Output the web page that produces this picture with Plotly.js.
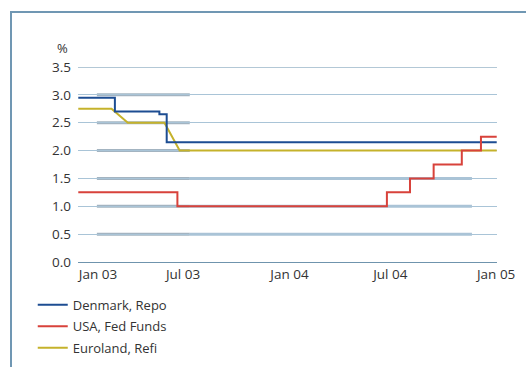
<!DOCTYPE html>
<html>
<head>
<meta charset="utf-8">
<script src="https://cdn.plot.ly/plotly-3.0.1.min.js"></script>
<style>
  html, body { margin: 0; padding: 0; background: #fff; }
  #wrap { position: relative; width: 526px; height: 367px; overflow: hidden; }
  #chart { width: 526px; height: 367px; }
  #frame { position: absolute; left: 10px; top: 11px; width: 700px; height: 700px;
           border-left: 2px solid #7097b3; border-top: 2px solid #7097b3; pointer-events: none; }
</style>
</head>
<body>
<div id="wrap">
  <div id="chart"></div>
  <div id="frame"></div>
</div>
<script>
// Denmark, Repo
const dkDates = ['2002-12-30', '2003-03-05', '2003-05-23', '2003-06-05', '2005-01-11'];
const dkRates = [2.95, 2.70, 2.65, 2.15, 2.15];

// USA, Fed Funds
const usDates = ['2002-12-30', '2003-06-24', '2004-06-30', '2004-08-10', '2004-09-21', '2004-11-10', '2004-12-14', '2005-01-11'];
const usRates = [1.25, 1.00, 1.25, 1.50, 1.75, 2.00, 2.25, 2.25];

// Euroland, Refi (monthly-sampled, transitions drawn as slopes)
const euDates = ['2002-12-30', '2003-02-27', '2003-03-28', '2003-06-01', '2003-06-28', '2005-01-11'];
const euRates = [2.75, 2.75, 2.50, 2.50, 2.00, 2.00];

// Axis ticks
const xTickVals = ['2003-02-03', '2003-07-04', '2004-01-09', '2004-07-06', '2005-01-10'];
const xTickText = ['Jan 03', 'Jul 03', 'Jan 04', 'Jul 04', 'Jan 05'];
const yTickVals = [0, 0.5, 1, 1.5, 2, 2.5, 3, 3.5];

// Decorative background bands seen in the reference
const bandALevels = [3.0, 2.5, 2.0, 1.5, 1.0, 0.5];
const bandARange = ['2003-02-01', '2003-07-16'];
const bandBLevels = [1.5, 1.0, 0.5];
const bandBRange = ['2003-07-16', '2004-11-28'];

const FONT = 'Open Sans, sans-serif';

const traces = [
  { x: euDates, y: euRates, type: 'scatter', mode: 'lines', name: 'Euroland, Refi',
    line: { color: '#c5b22b', width: 2 }, legendrank: 3, legendgroup: 'c' },
  { x: dkDates, y: dkRates, type: 'scatter', mode: 'lines', name: 'Denmark, Repo',
    line: { color: '#1d4d92', width: 2, shape: 'hv' }, legendrank: 1, legendgroup: 'a' },
  { x: usDates, y: usRates, type: 'scatter', mode: 'lines', name: 'USA, Fed Funds',
    line: { color: '#d8423b', width: 2, shape: 'hv' }, legendrank: 2, legendgroup: 'b' }
];

const shapes = [];
bandALevels.forEach(v => shapes.push({ type: 'line', xref: 'x', yref: 'y', layer: 'below',
  x0: bandARange[0], x1: bandARange[1], y0: v, y1: v, line: { color: '#a3b4c1', width: 3 } }));
bandBLevels.forEach(v => shapes.push({ type: 'line', xref: 'x', yref: 'y', layer: 'below',
  x0: bandBRange[0], x1: bandBRange[1], y0: v, y1: v, line: { color: '#aac3d6', width: 3 } }));
shapes.push({ type: 'line', xref: 'paper', yref: 'y', layer: 'below',
  x0: 0, x1: 1, y0: 3.5, y1: 3.5, line: { color: '#6991ad', width: 1.2 } });

const layout = {
  width: 526, height: 367,
  margin: { l: 78, r: 29, t: 67, b: 105, autoexpand: false },
  paper_bgcolor: '#fff', plot_bgcolor: '#fff',
  font: { family: FONT, size: 13, color: '#333' },
  showlegend: true,
  legend: { x: -0.108, xanchor: 'left', y: -0.143, yanchor: 'top',
            font: { family: FONT, size: 13, color: '#333' },
            tracegroupgap: 1.5, bgcolor: 'rgba(0,0,0,0)' },
  xaxis: {
    type: 'date', range: ['2002-12-29 12:00', '2005-01-11 12:00'],
    tickvals: xTickVals, ticktext: xTickText,
    showgrid: false, zeroline: false, showline: true, linecolor: '#6f94ad', linewidth: 1.2,
    ticks: '', tickfont: { family: FONT, size: 13.5, color: '#333' }, fixedrange: true
  },
  yaxis: {
    range: [0, 3.5], tickvals: yTickVals, tickformat: '.1f',
    showgrid: true, gridcolor: '#a9c4d7', gridwidth: 1,
    zeroline: false, showline: false, ticks: '',
    ticklabelstandoff: 6,
    tickfont: { family: FONT, size: 13.5, color: '#333' }, fixedrange: true
  },
  shapes: shapes,
  annotations: [{ text: '%', xref: 'paper', yref: 'paper', x: -0.038, y: 1.097,
    xanchor: 'center', yanchor: 'middle', showarrow: false,
    font: { family: FONT, size: 13, color: '#333' } }]
};

Plotly.newPlot('chart', traces, layout, { displayModeBar: false, staticPlot: true });
</script>
</body>
</html>
